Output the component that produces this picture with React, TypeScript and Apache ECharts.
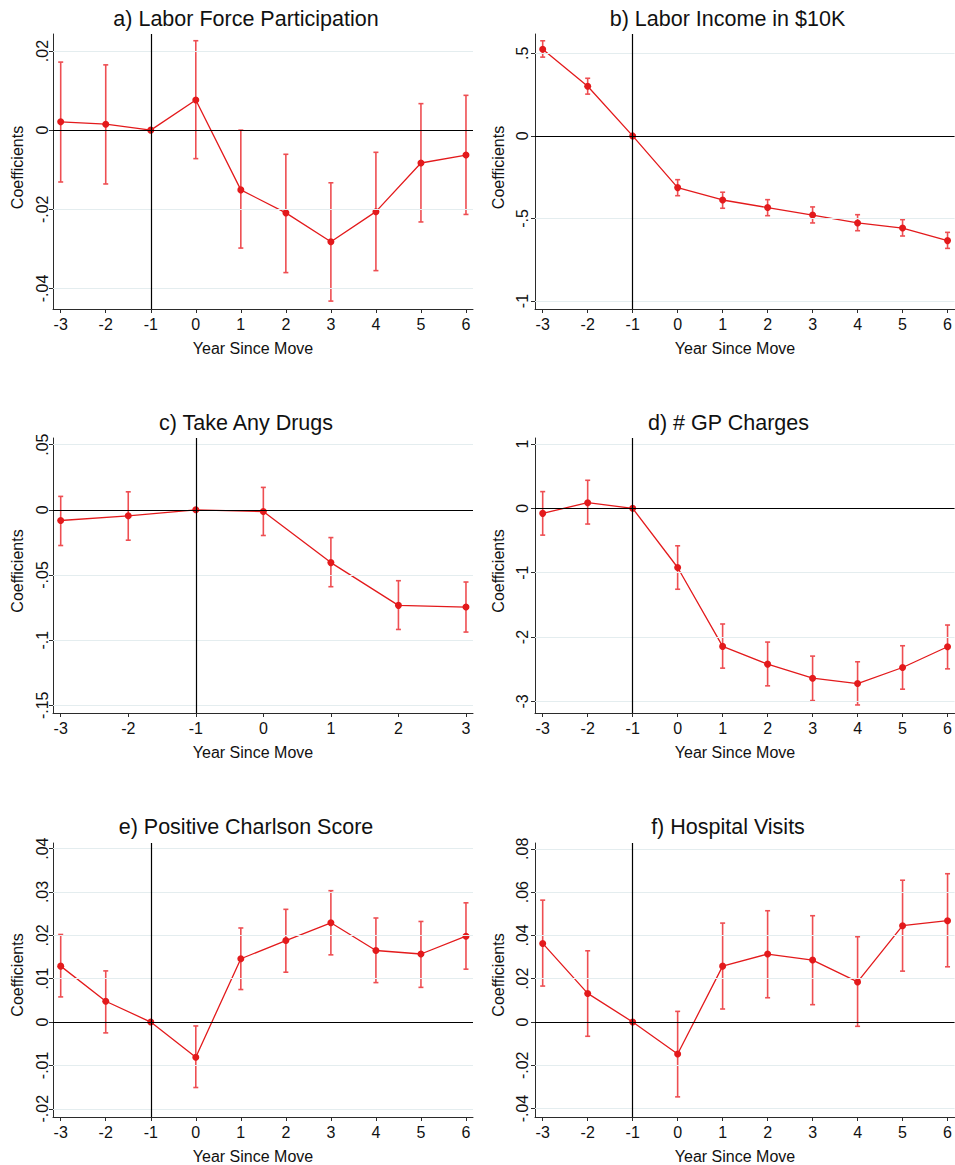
import React, { useEffect, useRef } from "react";
import * as echarts from "echarts";

// ---------- data ----------
const YEARS = [-3, -2, -1, 0, 1, 2, 3, 4, 5, 6];
const YEARS_C = [-3, -2, -1, 0, 1, 2, 3];

const LFP_COEF = [0.0021, 0.0015, 0, 0.0076, -0.0151, -0.0209, -0.0282, -0.0206, -0.0083, -0.0063];
const LFP_HI = [0.0172, 0.0165, null, 0.0226, 0.0, -0.0061, -0.0133, -0.0056, 0.0067, 0.0088];
const LFP_LO = [-0.0131, -0.0136, null, -0.0072, -0.0298, -0.036, -0.0432, -0.0355, -0.0232, -0.0213];
const LFP_TICKS = [-0.04, -0.02, 0, 0.02];

const INC_COEF = [0.525, 0.301, 0, -0.313, -0.388, -0.434, -0.479, -0.527, -0.558, -0.634];
const INC_HI = [0.576, 0.349, null, -0.265, -0.341, -0.386, -0.43, -0.477, -0.507, -0.584];
const INC_LO = [0.477, 0.253, null, -0.362, -0.438, -0.483, -0.527, -0.574, -0.606, -0.681];
const INC_TICKS = [-1, -0.5, 0, 0.5];

const DRUG_COEF = [-0.0082, -0.0046, 0, -0.0013, -0.0405, -0.0733, -0.0746];
const DRUG_HI = [0.0103, 0.0138, null, 0.0172, -0.0213, -0.0544, -0.0554];
const DRUG_LO = [-0.0274, -0.0233, null, -0.0197, -0.059, -0.0918, -0.0938];
const DRUG_TICKS = [-0.15, -0.1, -0.05, 0, 0.05];

const GP_COEF = [-0.078, 0.088, 0, -0.919, -2.145, -2.421, -2.639, -2.722, -2.473, -2.151];
const GP_HI = [0.26, 0.436, null, -0.582, -1.797, -2.078, -2.296, -2.384, -2.135, -1.813];
const GP_LO = [-0.416, -0.244, null, -1.257, -2.483, -2.758, -2.987, -3.055, -2.81, -2.494];
const GP_TICKS = [-3, -2, -1, 0, 1];

const CHARL_COEF = [0.0129, 0.0048, 0, -0.0081, 0.0146, 0.0188, 0.0229, 0.0165, 0.0157, 0.0198];
const CHARL_HI = [0.0202, 0.0118, null, -0.0009, 0.0217, 0.026, 0.0303, 0.024, 0.0232, 0.0275];
const CHARL_LO = [0.0058, -0.0025, null, -0.0151, 0.0075, 0.0115, 0.0155, 0.0091, 0.008, 0.0122];
const CHARL_TICKS = [-0.02, -0.01, 0, 0.01, 0.02, 0.03, 0.04];

const HOSP_COEF = [0.0363, 0.0132, 0, -0.0148, 0.0258, 0.0314, 0.0286, 0.0185, 0.0445, 0.0468];
const HOSP_HI = [0.0563, 0.0329, null, 0.0049, 0.0457, 0.0514, 0.0491, 0.0394, 0.0655, 0.0685];
const HOSP_LO = [0.0166, -0.0066, null, -0.0346, 0.006, 0.0112, 0.008, -0.002, 0.0235, 0.0255];
const HOSP_TICKS = [-0.04, -0.02, 0, 0.02, 0.04, 0.06, 0.08];

const TITLES = [
  "a) Labor Force Participation",
  "b) Labor Income in $10K",
  "c) Take Any Drugs",
  "d) # GP Charges",
  "e) Positive Charlson Score",
  "f) Hospital Visits",
];
const X_NAME = "Year Since Move";
const Y_NAME = "Coefficients";

// ---------- layout / style ----------
const FONT = "'Liberation Sans', Arial, Helvetica, sans-serif";
const RED = "#e31a1c";
const ERR = "#ee4e52";
const AXIS = "#2b2b2b";
const GRIDC = "#e4edef";
const LABEL_SIZE = 16;
const TITLE_SIZE = 21.5;

const PANELS = [
  { years: YEARS, coef: LFP_COEF, hi: LFP_HI, lo: LFP_LO, ticks: LFP_TICKS,
    grid: { left: 53, top: 34, width: 420, height: 275 }, xMin: -3.171, xMax: 6.156, yMin: -0.0452, yMax: 0.0243,
    title: [246, 19], xName: [253, 348], yName: [17, 167.5], yMargin: 3 },
  { years: YEARS, coef: INC_COEF, hi: INC_HI, lo: INC_LO, ticks: INC_TICKS,
    grid: { left: 535, top: 34, width: 420, height: 275 }, xMin: -3.171, xMax: 6.156, yMin: -1.048, yMax: 0.617,
    title: [727.5, 19], xName: [735, 348], yName: [498, 167.5], yMargin: 5 },
  { years: YEARS_C, coef: DRUG_COEF, hi: DRUG_HI, lo: DRUG_LO, ticks: DRUG_TICKS,
    grid: { left: 53, top: 438, width: 420, height: 275 }, xMin: -3.114, xMax: 3.104, yMin: -0.1559, yMax: 0.0551,
    title: [246, 423.3], xName: [253, 752.3], yName: [17, 571], yMargin: 3 },
  { years: YEARS, coef: GP_COEF, hi: GP_HI, lo: GP_LO, ticks: GP_TICKS,
    grid: { left: 535, top: 438, width: 420, height: 275 }, xMin: -3.171, xMax: 6.156, yMin: -3.18, yMax: 1.093,
    title: [728.5, 423.3], xName: [735, 752.3], yName: [498.7, 571], yMargin: 5 },
  { years: YEARS, coef: CHARL_COEF, hi: CHARL_HI, lo: CHARL_LO, ticks: CHARL_TICKS,
    grid: { left: 53, top: 843, width: 420, height: 274 }, xMin: -3.171, xMax: 6.156, yMin: -0.0219, yMax: 0.0413,
    title: [246, 827.3], xName: [253, 1156.7], yName: [17, 975], yMargin: 3 },
  { years: YEARS, coef: HOSP_COEF, hi: HOSP_HI, lo: HOSP_LO, ticks: HOSP_TICKS,
    grid: { left: 535, top: 843, width: 420, height: 274 }, xMin: -3.171, xMax: 6.156, yMin: -0.0439, yMax: 0.0827,
    title: [728, 827], xName: [735, 1156.7], yName: [498.7, 975], yMargin: 5 },
];

const fmt = (v: number) => {
  const s = String(parseFloat(Number(v).toFixed(4)));
  return s.replace(/^(-?)0\./, "$1.");
};

function buildOption() {
  const grids: any[] = [];
  const xAxes: any[] = [];
  const yAxes: any[] = [];
  const series: any[] = [];
  const graphics: any[] = [];

  PANELS.forEach((p, i) => {
    grids.push({ ...p.grid, containLabel: false });
    xAxes.push({
      type: "value",
      gridIndex: i,
      min: p.xMin,
      max: p.xMax,
      axisLine: { show: true, onZero: false, lineStyle: { color: AXIS, width: 1 } },
      axisTick: { show: true, length: 4, customValues: p.years, lineStyle: { color: AXIS } },
      axisLabel: {
        customValues: p.years,
        margin: 7,
        fontFamily: FONT,
        fontSize: LABEL_SIZE,
        color: "#111",
        formatter: (v: number) => fmt(v),
      },
      splitLine: { show: false },
    });
    yAxes.push({
      type: "value",
      gridIndex: i,
      min: p.yMin,
      max: p.yMax,
      axisLine: { show: true, onZero: false, lineStyle: { color: AXIS, width: 1 } },
      axisTick: { show: true, length: 4, customValues: p.ticks, lineStyle: { color: AXIS } },
      axisLabel: {
        customValues: p.ticks,
        rotate: 90,
        margin: p.yMargin,
        fontFamily: FONT,
        fontSize: LABEL_SIZE,
        color: "#111",
        formatter: (v: number) => fmt(v),
      },
      splitLine: { show: false },
    });

    const pts = p.years.map((x, k) => [x, p.coef[k]]);
    const errs = p.years
      .map((x, k) => [x, p.lo[k], p.hi[k]])
      .filter((d) => d[1] !== null && d[2] !== null);

    // gridlines + reference lines
    series.push({
      type: "line",
      xAxisIndex: i,
      yAxisIndex: i,
      data: pts,
      showSymbol: false,
      symbol: "none",
      lineStyle: { opacity: 0, width: 0 },
      silent: true,
      z: 1,
      markLine: {
        silent: true,
        symbol: "none",
        label: { show: false },
        animation: false,
        data: [
          ...p.ticks.filter((t) => t !== 0).map((t) => ({ yAxis: t, lineStyle: { color: GRIDC, width: 1, type: "solid" } })),
          { yAxis: 0, lineStyle: { color: "#000", width: 1.2, type: "solid" } },
          { xAxis: -1, lineStyle: { color: "#000", width: 1.2, type: "solid" } },
        ],
      },
    });

    // error bars
    series.push({
      type: "custom",
      xAxisIndex: i,
      yAxisIndex: i,
      data: errs,
      encode: { x: 0, y: [1, 2] },
      z: 2,
      silent: true,
      renderItem: (params: any, api: any) => {
        const x = api.value(0);
        const top = api.coord([x, api.value(2)]);
        const bot = api.coord([x, api.value(1)]);
        const w = 2.5;
        const style = { stroke: ERR, lineWidth: 1.6, fill: null };
        return {
          type: "group",
          children: [
            { type: "line", shape: { x1: top[0], y1: top[1], x2: bot[0], y2: bot[1] }, style },
            { type: "line", shape: { x1: top[0] - w, y1: top[1], x2: top[0] + w, y2: top[1] }, style },
            { type: "line", shape: { x1: bot[0] - w, y1: bot[1], x2: bot[0] + w, y2: bot[1] }, style },
          ],
        };
      },
    });

    // coefficient line with markers
    series.push({
      type: "line",
      xAxisIndex: i,
      yAxisIndex: i,
      data: pts,
      symbol: "circle",
      symbolSize: 7,
      showSymbol: true,
      itemStyle: { color: RED },
      lineStyle: { color: RED, width: 1.3 },
      silent: true,
      z: 3,
    });

    graphics.push({
      type: "text",
      x: p.title[0],
      y: p.title[1],
      style: {
        text: TITLES[i],
        font: `${TITLE_SIZE}px ${FONT}`,
        fill: "#111",
        textAlign: "center",
        textVerticalAlign: "middle",
      },
    });
    graphics.push({
      type: "text",
      x: p.xName[0],
      y: p.xName[1],
      style: {
        text: X_NAME,
        font: `${LABEL_SIZE}px ${FONT}`,
        fill: "#111",
        textAlign: "center",
        textVerticalAlign: "middle",
      },
    });
    graphics.push({
      type: "text",
      x: p.yName[0],
      y: p.yName[1],
      rotation: Math.PI / 2,
      style: {
        text: Y_NAME,
        font: `${LABEL_SIZE}px ${FONT}`,
        fill: "#111",
        textAlign: "center",
        textVerticalAlign: "middle",
      },
    });
  });

  return {
    animation: false,
    backgroundColor: "#ffffff",
    grid: grids,
    xAxis: xAxes,
    yAxis: yAxes,
    series,
    graphic: graphics,
  };
}

export default function App() {
  const ref = useRef<HTMLDivElement>(null);
  useEffect(() => {
    if (!ref.current) return;
    const chart = echarts.init(ref.current, null, { renderer: "svg" });
    chart.setOption(buildOption() as any);
    return () => chart.dispose();
  }, []);
  return (
    <div
      ref={ref}
      style={{ position: "absolute", left: 0, top: 0, width: 955, height: 1165, background: "#fff" }}
    />
  );
}
